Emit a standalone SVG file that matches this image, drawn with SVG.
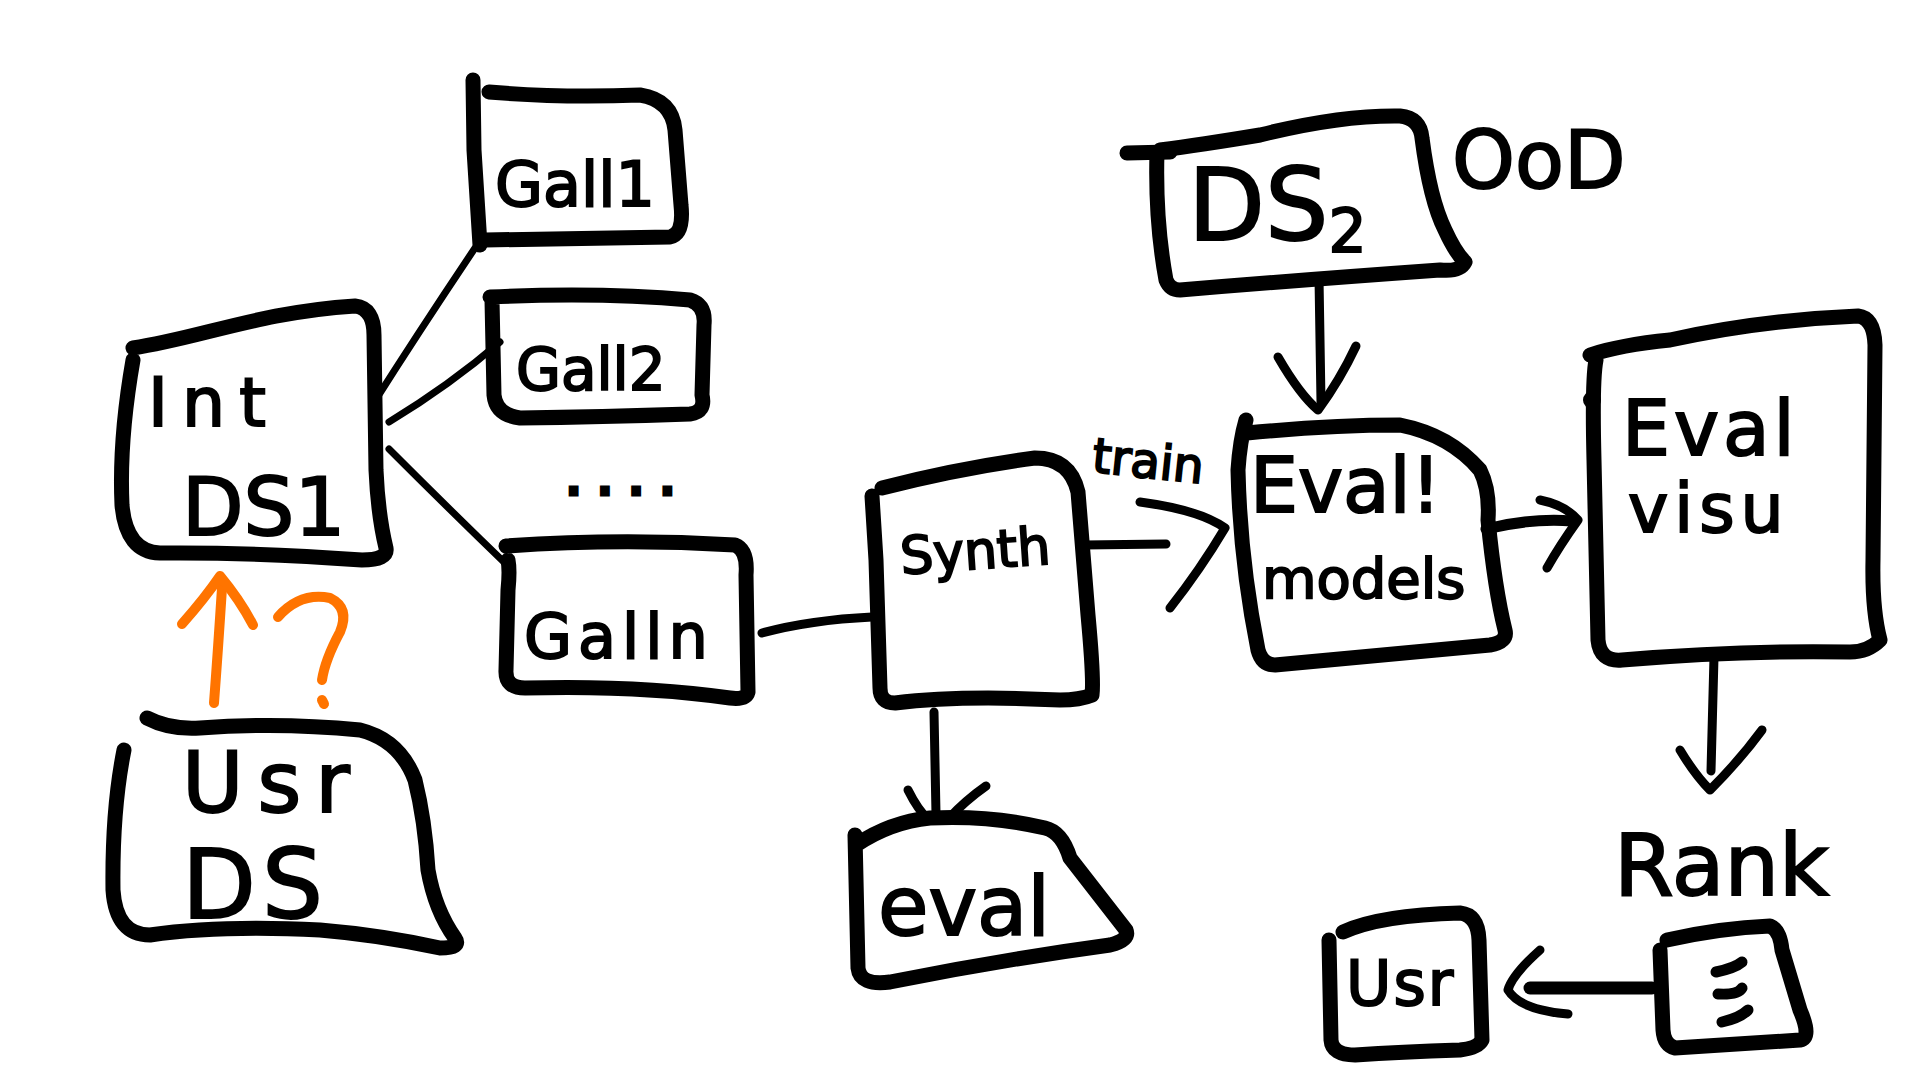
<svg xmlns="http://www.w3.org/2000/svg" width="1920" height="1080" viewBox="0 0 1920 1080">
<style>
.box{fill:none;stroke:#000;stroke-width:15;stroke-linecap:round;stroke-linejoin:round}
.ln{fill:none;stroke:#000;stroke-width:7;stroke-linecap:round;stroke-linejoin:round}
.ar{fill:none;stroke:#000;stroke-width:9;stroke-linecap:round;stroke-linejoin:round}
.or{fill:none;stroke:#ff7400;stroke-width:10;stroke-linecap:round;stroke-linejoin:round}
.t{font-family:"DejaVu Sans","Liberation Sans",sans-serif;fill:#000;stroke:#000;stroke-width:2}
</style>
<rect width="1920" height="1080" fill="#fff"/>
<g id="connectors">
<path class="ln" d="M373,404 Q420,330 475,248"/>
<path class="ln" d="M389,422 Q450,385 500,342"/>
<path class="ln" d="M389,449 Q450,510 508,566"/>
<path class="ar" d="M762,633 Q810,620 872,617"/>
<path class="ar" d="M1084,545 L1166,544"/>
<path class="ar" d="M1140,502 Q1200,510 1225,528 Q1200,570 1170,608"/>
<path class="ar" d="M1319,278 L1321,402"/>
<path class="ar" d="M1278,357 Q1300,395 1318,410 Q1340,380 1356,346"/>
<path class="ar" style="stroke-width:11" d="M1486,529 Q1530,518 1572,521"/>
<path class="ar" d="M1540,500 Q1565,505 1578,520 Q1560,545 1547,568"/>
<path class="ar" d="M934,712 L936,814"/>
<path class="ar" d="M908,790 Q918,810 928,819 L948,819 Q966,800 986,786"/>
<path class="ar" d="M1714,657 L1711,771"/>
<path class="ar" d="M1680,750 Q1695,775 1710,790 Q1740,760 1762,730"/>
<path class="box" style="stroke-width:13" d="M1652,988 L1530,988"/>
<path class="ar" d="M1540,950 Q1512,975 1508,990 Q1520,1010 1568,1014"/>
<path class="or" d="M214,703 Q218,650 222,588"/>
<path class="or" d="M182,624 Q205,598 220,576 Q240,600 253,625"/>
</g>
<g id="int-ds1">
<path class="box" d="M133,348 C200,338 260,312 355,306 Q374,308 374,335 L376,470 Q378,515 386,548 Q388,560 362,560 Q250,552 160,553 Q126,552 122,505 Q119,440 133,360"/>
<text class="t" x="148" y="426" font-size="68" letter-spacing="14">Int</text>
<text class="t" x="182" y="535" font-size="80">DS1</text>
</g>
<g id="gall1">
<path class="box" d="M473,80 L474,150 Q478,210 480,245"/>
<path class="box" d="M489,92 Q560,98 640,95 Q672,100 675,130 L681,205 Q684,234 670,237 Q600,238 485,240"/>
<text class="t" x="495" y="206" font-size="62">Gall1</text>
</g>
<g id="gall2">
<path class="box" d="M490,297 Q600,292 690,300 Q706,305 704,325 L702,395 Q706,412 690,414 Q600,417 520,418 Q496,415 494,395 L492,300"/>
<text class="t" x="516" y="390" font-size="58">Gall2</text>
</g>
<g id="ellipsis">
<text class="t" x="566" y="494" font-size="48" letter-spacing="16" style="stroke-width:5">....</text>
</g>
<g id="galln">
<path class="box" d="M506,546 Q620,538 735,545 Q748,550 746,575 L748,692 Q746,700 730,698 Q640,685 525,688 Q505,688 506,670 L508,590 Q510,570 508,560"/>
<text class="t" x="524" y="658" font-size="62" letter-spacing="6">Galln</text>
</g>
<g id="usr-ds">
<path class="box" d="M147,718 Q170,730 200,728 Q280,722 360,730 Q400,740 415,780 Q425,820 428,870 Q435,910 455,938 Q462,948 440,948 Q380,935 320,930 Q220,925 150,935 Q116,935 113,890 Q112,810 124,750"/>
<text class="t" x="182" y="812" font-size="84" letter-spacing="14">Usr</text>
<text class="t" x="182" y="918" font-size="96" letter-spacing="6">DS</text>
</g>
<g id="question">
<path class="or" d="M278,617 Q300,592 330,598 Q350,608 340,632 Q325,660 322,680"/>
<path class="or" d="M322,700 L324,704"/>
</g>
<g id="synth">
<path class="box" d="M882,488 Q960,468 1035,458 Q1070,458 1078,492 L1088,615 Q1094,680 1092,695 Q1080,700 1060,700 Q960,695 895,703 Q880,703 880,688 L876,560 L872,496"/>
<text class="t" x="900" y="570" font-size="52" transform="rotate(-4 960 550)">Synth</text>
</g>
<g id="eval">
<path class="box" d="M856,845 Q890,822 930,818 Q990,815 1045,828 Q1062,832 1070,858 L1126,930 Q1130,940 1110,945 Q1000,960 890,982 Q860,986 858,968 L855,835"/>
<text class="t" x="878" y="935" font-size="82">eval</text>
</g>
<g id="ds2">
<path class="box" d="M1127,153 L1170,152"/>
<path class="box" d="M1160,150 Q1200,145 1260,135 Q1340,115 1400,116 Q1420,118 1422,138 Q1430,200 1445,230 Q1455,252 1465,262 Q1460,272 1440,270 Q1300,280 1180,290 Q1170,290 1166,280 Q1155,220 1157,152"/>
<text class="t" x="1188" y="240" font-size="100">DS<tspan font-size="60" dy="12">2</tspan></text>
</g>
<g id="ood">
<text class="t" x="1452" y="188" font-size="80">OoD</text>
</g>
<g id="train-label">
<text class="t" x="1092" y="478" font-size="48" transform="rotate(6 1150 465)">train</text>
</g>
<g id="eval-models">
<path class="box" d="M1247,433 Q1330,425 1400,425 Q1450,435 1480,470 Q1490,490 1488,520 Q1495,590 1505,630 Q1508,642 1490,645 Q1380,655 1275,665 Q1262,665 1258,650 Q1240,560 1238,470 Q1240,440 1246,420"/>
<text class="t" x="1250" y="512" font-size="76">Eval!</text>
<text class="t" x="1262" y="598" font-size="56">models</text>
</g>
<g id="eval-visu">
<path class="box" d="M1590,355 Q1620,345 1670,340 Q1760,320 1858,316 Q1874,318 1875,345 L1873,560 Q1872,610 1880,640 Q1868,652 1850,652 Q1740,650 1622,660 Q1600,662 1598,640 L1594,460 Q1592,380 1596,360"/>
<circle cx="1592" cy="400" r="9" fill="#000"/>
<text class="t" x="1622" y="455" font-size="76" letter-spacing="4">Eval</text>
<text class="t" x="1628" y="532" font-size="68" letter-spacing="6">visu</text>
</g>
<g id="rank-label">
<text class="t" x="1614" y="895" font-size="86">Rank</text>
</g>
<g id="rank-list">
<path class="box" d="M1667,940 Q1720,928 1770,926 Q1780,930 1782,950 L1800,1010 Q1812,1038 1800,1040 Q1740,1044 1675,1048 Q1664,1045 1663,1030 L1660,950"/>
<path class="box" style="stroke-width:11" d="M1716,972 Q1735,968 1742,962"/>
<path class="box" style="stroke-width:11" d="M1718,994 Q1738,995 1742,988"/>
<path class="box" style="stroke-width:11" d="M1722,1022 Q1740,1018 1748,1010"/>
</g>
<g id="usr">
<path class="box" d="M1343,932 Q1380,915 1460,913 Q1478,915 1479,940 L1482,1040 Q1478,1048 1460,1050 Q1400,1052 1355,1055 Q1332,1055 1331,1040 L1329,940"/>
<text class="t" x="1346" y="1005" font-size="62" letter-spacing="2">Usr</text>
</g>
</svg>
